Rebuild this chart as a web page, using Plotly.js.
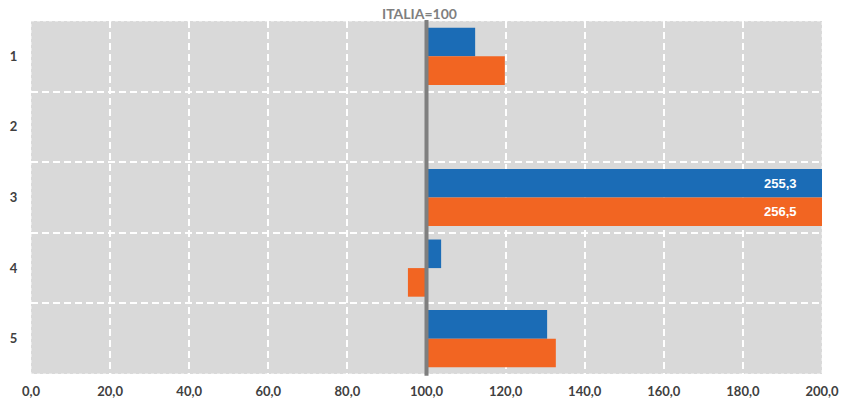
<!DOCTYPE html>
<html>
<head>
<meta charset="utf-8">
<script src="https://cdn.plot.ly/plotly-3.0.1.min.js"></script>
<style>html,body{margin:0;padding:0;background:#fff;}#chart{width:842px;height:400px;}</style>
</head>
<body>
<div id="chart"></div>
<script>
// Data (index Italia = 100)
var categories = [1, 2, 3, 4, 5];
var categoryLabels = ['1', '2', '3', '4', '5'];
var seriesBlue = [112.3, null, 255.3, 103.7, 130.5];
var seriesOrange = [119.8, null, 256.5, 95.3, 132.7];
var baseValue = 100;
var xTicks = [0, 20, 40, 60, 80, 100, 120, 140, 160, 180, 200];
var xMax = 200;
var refLabel = 'ITALIA=100';

var blue = '#1b6cb6';
var orange = '#f26522';
var bargap = 0.19;

function rel(arr) { return arr.map(function (v) { return v === null ? null : v - baseValue; }); }

var traces = [
  { type: 'bar', orientation: 'h', y: categories, x: rel(seriesBlue), base: baseValue,
    marker: { color: blue }, hoverinfo: 'skip', cliponaxis: true },
  { type: 'bar', orientation: 'h', y: categories, x: rel(seriesOrange), base: baseValue,
    marker: { color: orange }, hoverinfo: 'skip', cliponaxis: true }
];

// labels for values beyond the axis range
var annotations = [];
var barW = (1 - bargap) / 2;
[seriesBlue, seriesOrange].forEach(function (s, si) {
  s.forEach(function (v, i) {
    if (v !== null && v > xMax) {
      annotations.push({
        x: xMax, xref: 'x', y: categories[i] + (si === 0 ? -barW / 2 : barW / 2), yref: 'y',
        text: v.toFixed(1).replace('.', ','), showarrow: false, xanchor: 'right', xshift: -23,
        font: { family: 'Liberation Sans, Arial, sans-serif', size: 13, color: '#ffffff', weight: 'bold' }
      });
    }
  });
});
annotations.push({
  x: baseValue, xref: 'x', y: 1, yref: 'paper', yanchor: 'bottom', xanchor: 'center', xshift: -7, yshift: -3,
  text: '<b>' + refLabel + '</b>', showarrow: false,
  font: { family: 'Lato, Open Sans, sans-serif', size: 14, color: '#7f7f7f' }
});

var layout = {
  width: 842, height: 400,
  margin: { l: 31, r: 20, t: 21, b: 26 },
  paper_bgcolor: '#ffffff', plot_bgcolor: '#d9d9d9',
  separators: ',.',
  barmode: 'group', bargap: bargap, bargroupgap: 0,
  showlegend: false,
  xaxis: {
    range: [0, xMax], tickvals: xTicks, tickformat: '.1f',
    showgrid: true, gridcolor: '#ffffff', gridwidth: 2, griddash: '7px,4px',
    zeroline: false, showline: false,
    ticks: 'outside', ticklen: 5, tickcolor: 'rgba(0,0,0,0)',
    tickfont: { family: 'Lato, Open Sans, sans-serif', size: 13, color: '#404040', weight: 'bold' }
  },
  yaxis: {
    range: [5.5, 0.5], tickvals: categories, ticktext: categoryLabels,
    showgrid: false, zeroline: false, showline: false,
    ticks: 'outside', ticklen: 10, tickcolor: 'rgba(0,0,0,0)',
    tickfont: { family: 'Lato, Open Sans, sans-serif', size: 13, color: '#404040', weight: 'bold' },
    minor: { tick0: 0.5, dtick: 1, showgrid: true, gridcolor: '#ffffff', gridwidth: 2, griddash: '7px,4px', ticks: '' }
  },
  shapes: [
    { type: 'rect', xref: 'paper', yref: 'paper', x0: 0, x1: 1, y0: 0, y1: 1,
      line: { color: 'rgba(255,255,255,0.8)', width: 1, dash: 'dot' }, layer: 'below' },
    { type: 'line', xref: 'x', yref: 'paper', x0: baseValue, x1: baseValue, y0: -0.005, y1: 1.003,
      line: { color: '#7f7f7f', width: 4 }, layer: 'above' }
  ],
  annotations: annotations
};

Plotly.newPlot('chart', traces, layout, { displayModeBar: false, staticPlot: true });
</script>
</body>
</html>
